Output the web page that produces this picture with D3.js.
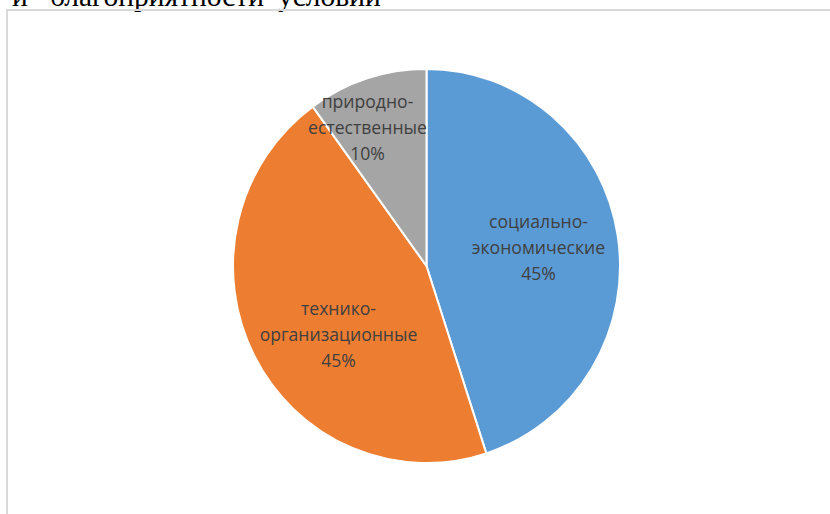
<!DOCTYPE html>
<html><head><meta charset="utf-8">
<script src="https://cdn.jsdelivr.net/npm/d3@7"></script>
<style>html,body{margin:0;padding:0;background:#fff;}svg{display:block;}</style>
</head><body>
<svg id="c" width="830" height="514"></svg>
<script>
const categories = ["социально-экономические", "технико-организационные", "природно-естественные"];
const labelLines = [["социально-", "экономические"], ["технико-", "организационные"], ["природно-", "естественные"]];
const values = [45, 45, 10];
const colors = ["#5B9BD5", "#ED7D31", "#A5A5A5"];
const titleWords = ["и", "благоприятности", "условий"];

const svg = d3.select("#c");
// cut-off heading text above chart (part of surrounding document)
const titleX = [12, 50, 278];
svg.selectAll("text.title").data(titleWords).join("text")
  .attr("class", "title")
  .attr("x", (d, i) => titleX[i]).attr("y", 6)
  .attr("font-family", "Liberation Serif, Times New Roman, serif")
  .attr("font-size", 29.5).attr("fill", "#000").text(d => d);

// chart border
svg.append("rect").attr("x", 7).attr("y", 10).attr("width", 840).attr("height", 520)
  .attr("fill", "none").attr("stroke", "#d9d9d9").attr("stroke-width", 2);

const cx = 426.5, cy = 266, r = 193.5, sy = 197 / 193.5;
const pie = d3.pie().sort(null).value(d => d)(values);
const arc = d3.arc().innerRadius(0).outerRadius(r);
const g = svg.append("g").attr("transform", `translate(${cx},${cy}) scale(1,${sy})`);
g.selectAll("path").data(pie).join("path")
  .attr("d", arc).attr("fill", (d, i) => colors[i])
  .attr("stroke", "#fff").attr("stroke-width", 2).attr("stroke-linejoin", "round");

// label anchor positions (center of middle line), relative to pie centre
const total = d3.sum(values);
const labelOffsets = [[112, -18], [-88, 69], [-59, -138]];
const lg = svg.append("g").attr("transform", `translate(${cx},${cy})`);
pie.forEach((p, i) => {
  const lines = labelLines[i].concat([d3.format(".0%")(values[i] / total)]);
  const t = lg.append("text")
    .attr("text-anchor", "middle")
    .attr("font-family", "Open Sans, sans-serif")
    .attr("font-size", 17.6).attr("fill", "#404040");
  lines.forEach((ln, j) => {
    t.append("tspan").attr("x", labelOffsets[i][0])
      .attr("y", labelOffsets[i][1] + (j - 1) * 26)
      .attr("dy", "0.35em").text(ln);
  });
});
</script>
</body></html>
